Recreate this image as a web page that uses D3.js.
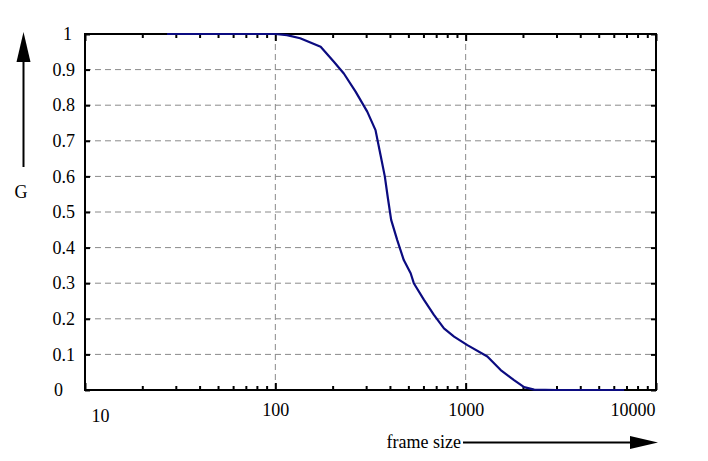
<!DOCTYPE html>
<html>
<head>
<meta charset="utf-8">
<script src="https://cdn.jsdelivr.net/npm/d3@7"></script>
<style>
  body { margin: 0; background: #fff; }
  text { font-family: "Liberation Serif", "DejaVu Serif", serif; }
</style>
</head>
<body>
<script>
// curve: frame size vs G
const frameSize = [27, 49, 100, 115, 135, 173, 203, 229, 264, 304, 336, 357, 376, 390, 406, 437, 473, 514, 534, 604, 681, 769, 869, 1021, 1300, 1528, 1795, 2027, 2290, 3000, 6800]
const gValue = [1.0, 1.0, 1.0, 0.997, 0.988, 0.964, 0.922, 0.889, 0.838, 0.782, 0.730, 0.660, 0.600, 0.540, 0.478, 0.421, 0.365, 0.328, 0.300, 0.253, 0.211, 0.173, 0.150, 0.126, 0.094, 0.056, 0.028, 0.008, 0.001, 0, 0]

const xMajor = [10, 100, 1000, 10000]
const xMinor = [20, 30, 40, 50, 60, 70, 80, 90, 200, 300, 400, 500, 600, 700, 800, 900, 2000, 3000, 4000, 5000, 6000, 7000, 8000, 9000]
const yTicks = [0, 0.1, 0.2, 0.3, 0.4, 0.5, 0.6, 0.7, 0.8, 0.9, 1]
const yLabels = ['0', '0.1', '0.2', '0.3', '0.4', '0.5', '0.6', '0.7', '0.8', '0.9', '1']

const WIDTH = 708
const HEIGHT = 461
const margin = { top: 34, bottom: 71, left: 85, right: 52 }
const SERIF = '"Liberation Serif", "DejaVu Serif", serif'

const svg = d3.select('body').append('svg')
    .attr('width', WIDTH)
    .attr('height', HEIGHT);

const x = d3.scaleLog()
    .domain([10, 10000])
    .range([margin.left, WIDTH - margin.right]);

const y = d3.scaleLinear()
    .domain([0, 1])
    .range([HEIGHT - margin.bottom, margin.top]);

const plotTop = margin.top, plotBottom = HEIGHT - margin.bottom
const plotLeft = margin.left, plotRight = WIDTH - margin.right

// dashed grid
svg.append('g')
    .attr('stroke', '#8a8a8a')
    .attr('stroke-dasharray', '6,4')
    .selectAll('line')
    .data(yTicks.slice(1, -1))
    .join('line')
        .attr('x1', plotLeft).attr('x2', plotRight)
        .attr('y1', d => y(d)).attr('y2', d => y(d));

svg.append('g')
    .attr('stroke', '#8a8a8a')
    .attr('stroke-dasharray', '6,4')
    .selectAll('line')
    .data(xMajor.slice(1, -1))
    .join('line')
        .attr('x1', d => x(d)).attr('x2', d => x(d))
        .attr('y1', plotTop).attr('y2', plotBottom);

// ticks, all pointing inward
function ticks(axis, transform) {
    const g = svg.append('g').attr('transform', transform).call(axis);
    g.attr('font-family', SERIF).attr('font-size', 18);
    g.select('.domain').remove();
    g.selectAll('.tick line').attr('stroke', '#000').attr('stroke-width', 2);
    g.selectAll('.tick text').attr('fill', '#000').style('font-family', SERIF);
    return g;
}

ticks(d3.axisBottom(x).tickValues(xMinor).tickSize(-4).tickFormat(''), `translate(0,${plotBottom})`);
ticks(d3.axisTop(x).tickValues(xMinor).tickSize(-4).tickFormat(''), `translate(0,${plotTop})`);
ticks(d3.axisTop(x).tickValues(xMajor).tickSize(-7).tickFormat(''), `translate(0,${plotTop})`);

const xAxis = ticks(d3.axisBottom(x).tickValues(xMajor).tickSize(-7).tickPadding(13).tickFormat(d3.format('d')),
    `translate(0,${plotBottom})`);
xAxis.selectAll('.tick').filter(d => d == 10).select('text')
    .attr('text-anchor', 'start').attr('dx', 6).attr('dy', '1.03em');
xAxis.selectAll('.tick').filter(d => d == 10000).select('text')
    .attr('text-anchor', 'end').attr('dx', -1);

const yAxis = ticks(d3.axisLeft(y).tickValues(yTicks).tickSize(-5).tickPadding(10)
    .tickFormat((d, i) => yLabels[i]), `translate(${plotLeft},0)`);
yAxis.selectAll('.tick').filter(d => d == 0).select('text').attr('dx', -12);
yAxis.selectAll('.tick').filter(d => d == 1).select('text').attr('dx', -3);

ticks(d3.axisRight(y).tickValues(yTicks).tickSize(-5).tickFormat(''), `translate(${plotRight},0)`);

// frame
svg.append('rect')
    .attr('x', plotLeft).attr('y', plotTop)
    .attr('width', plotRight - plotLeft).attr('height', plotBottom - plotTop)
    .attr('fill', 'none')
    .attr('stroke', '#000')
    .attr('stroke-width', 2);

// the curve
const pts = frameSize.map((f, i) => [f, gValue[i]])
svg.append('path')
    .datum(pts)
    .attr('fill', 'none')
    .attr('stroke', '#0b0b80')
    .attr('stroke-width', 2.2)
    .attr('stroke-linejoin', 'round')
    .attr('d', d3.line().x(d => x(d[0])).y(d => y(d[1])));

// axis names with arrows
svg.append('text')
    .attr('x', 21).attr('y', 198)
    .attr('text-anchor', 'middle')
    .attr('font-size', 18)
    .text('G');

svg.append('line')
    .attr('x1', 23.5).attr('x2', 23.5)
    .attr('y1', 167).attr('y2', 55)
    .attr('stroke', '#000').attr('stroke-width', 2);
svg.append('path')
    .attr('d', 'M23.5,32 L16.5,62 L30.5,62 Z')
    .attr('fill', '#000');

svg.append('text')
    .attr('x', 461).attr('y', 448)
    .attr('text-anchor', 'end')
    .attr('font-size', 18)
    .text('frame size');

svg.append('line')
    .attr('x1', 463).attr('x2', 635)
    .attr('y1', 442.5).attr('y2', 442.5)
    .attr('stroke', '#000').attr('stroke-width', 2);
svg.append('path')
    .attr('d', 'M658,442.5 L630,436 L630,449 Z')
    .attr('fill', '#000');
</script>
</body>
</html>
